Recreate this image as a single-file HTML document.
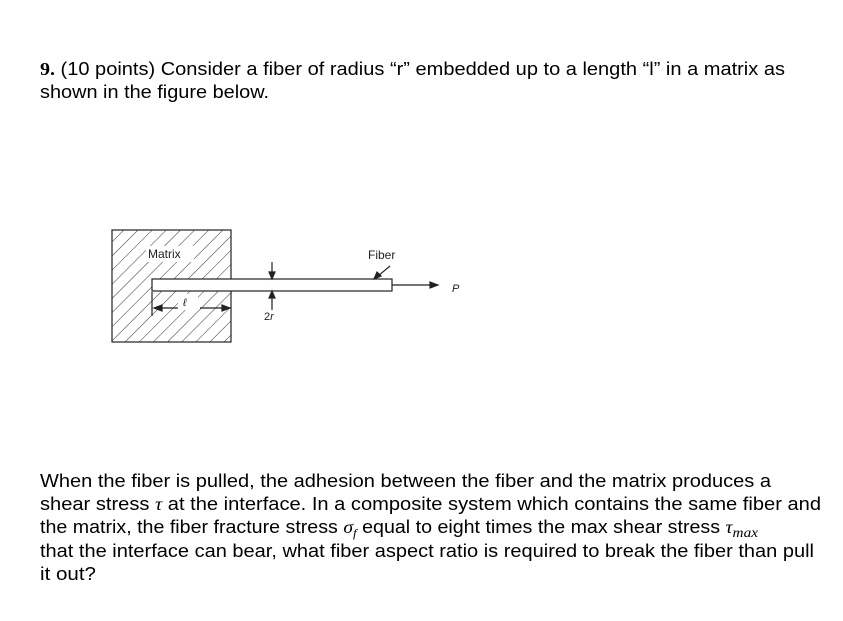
<!DOCTYPE html>
<html><head><style>body{margin:0;background:#fff}svg{display:block}</style></head><body>
<svg width="843" height="621" viewBox="0 0 843 621" xmlns="http://www.w3.org/2000/svg" font-family="Liberation Sans, Arial, sans-serif">
<defs>
<pattern id="h" patternUnits="userSpaceOnUse" width="10" height="10" patternTransform="rotate(45)"><line x1="0" y1="0" x2="0" y2="10" stroke="#333" stroke-width="1"/></pattern>
</defs>
<g font-size="18" fill="#000">
<text x="40" y="75" textLength="745" lengthAdjust="spacingAndGlyphs"><tspan font-family="Liberation Serif, serif" font-weight="bold">9.</tspan> (10 points) Consider a fiber of radius “r” embedded up to a length “l” in a matrix as</text>
<text x="40" y="98" textLength="229" lengthAdjust="spacingAndGlyphs">shown in the figure below.</text>
<text x="40" y="487" textLength="731" lengthAdjust="spacingAndGlyphs">When the fiber is pulled, the adhesion between the fiber and the matrix produces a</text>
<text x="40" y="510" textLength="781" lengthAdjust="spacingAndGlyphs">shear stress <tspan font-family="Liberation Serif, serif" font-style="italic">τ</tspan> at the interface. In a composite system which contains the same fiber and</text>
<text x="40" y="533" textLength="718" lengthAdjust="spacingAndGlyphs">the matrix, the fiber fracture stress <tspan font-family="Liberation Serif, serif" font-style="italic">σ<tspan font-size="12" dy="4">f</tspan></tspan><tspan dy="-4"> equal to eight times the max shear stress </tspan><tspan font-family="Liberation Serif, serif" font-style="italic">τ<tspan font-size="14" dy="4">max</tspan></tspan></text>
<text x="40" y="557" textLength="774" lengthAdjust="spacingAndGlyphs">that the interface can bear, what fiber aspect ratio is required to break the fiber than pull</text>
<text x="40" y="580" textLength="56" lengthAdjust="spacingAndGlyphs">it out?</text>
</g>
<rect x="112" y="230" width="119" height="112" fill="url(#h)" stroke="#222" stroke-width="1.2"/>
<rect x="146" y="246" width="48" height="16" fill="#fff"/>
<rect x="178" y="294" width="20" height="16" fill="#fff"/>
<rect x="152" y="279" width="240" height="12" fill="#fff" stroke="#222" stroke-width="1.2"/>
<g font-size="12" fill="#222">
<text x="148" y="258">Matrix</text>
<text x="368" y="259">Fiber</text>
<text x="452" y="292" font-style="italic" font-size="11">P</text>
<text x="264" y="320" font-size="11">2<tspan font-style="italic">r</tspan></text>
<text x="183" y="306" font-style="italic" font-size="11">ℓ</text>
</g>
<g stroke="#222" stroke-width="1.2" fill="#222">
<line x1="392" y1="285" x2="432" y2="285"/><polygon points="438,285 430,282 430,288"/>
<line x1="390" y1="266" x2="378" y2="276"/><polygon points="374,279 377,272 381,276"/>
<line x1="272" y1="262" x2="272" y2="274"/><polygon points="272,279 269,272 275,272"/>
<line x1="272" y1="296" x2="272" y2="310"/><polygon points="272,291 269,298 275,298"/>
<line x1="152" y1="292" x2="152" y2="316"/>
<line x1="156" y1="308" x2="178" y2="308"/><polygon points="154,308 162,305 162,311"/>
<line x1="200" y1="308" x2="226" y2="308"/><polygon points="230,308 222,305 222,311"/>
</g>
</svg>
</body></html>
